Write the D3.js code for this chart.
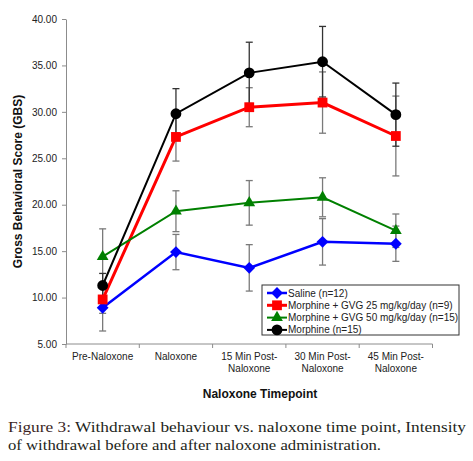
<!DOCTYPE html>
<html>
<head>
<meta charset="utf-8">
<script src="https://cdn.jsdelivr.net/npm/d3@7"></script>
<style>
  body { margin: 0; background: #fff; }
  text { font-family: "Liberation Sans", Arial, sans-serif; }
  text.caption { font-family: "Liberation Serif", "DejaVu Serif", serif; }
</style>
</head>
<body>
<div id="chart"></div>
<script>
// Timepoints on the x axis (second line after the '|')
const categories = [
  'Pre-Naloxone', 'Naloxone', '15 Min Post-|Naloxone',
  '30 Min Post-|Naloxone', '45 Min Post-|Naloxone'
]
const yTicks = [5, 10, 15, 20, 25, 30, 35, 40]

// Gross behavioral score means and error (+/-) per group
const salineMean = [8.9, 14.9, 13.2, 16.0, 15.8]
const salineErr = [2.5, 1.9, 2.5, 2.5, 1.9]
const gvg25Mean = [9.8, 27.3, 30.5, 31.0, 27.4]
const gvg25Err = [1.5, 2.6, 2.1, 3.3, 4.3]
const gvg50Mean = [14.4, 19.3, 20.2, 20.8, 17.2]
const gvg50Err = [3.0, 2.2, 2.4, 2.1, 1.8]
const morphineMean = [11.3, 29.8, 34.2, 35.4, 29.7]
const morphineErr = [1.3, 2.7, 3.3, 3.8, 3.4]

const seriesNames = [
  'Saline (n=12)',
  'Morphine + GVG 25 mg/kg/day (n=9)',
  'Morphine + GVG 50 mg/kg/day (n=15)',
  'Morphine (n=15)'
]

const width = 473
const height = 461
const plot = { left: 66, right: 432.5, top: 19, bottom: 344 }

const series = [
  { name: seriesNames[0], mean: salineMean, err: salineErr, color: '#0000ff', lw: 2.5, sym: 'diamond' },
  { name: seriesNames[1], mean: gvg25Mean, err: gvg25Err, color: '#ff0000', lw: 3, sym: 'square' },
  { name: seriesNames[2], mean: gvg50Mean, err: gvg50Err, color: '#008000', lw: 2, sym: 'triangle' },
  { name: seriesNames[3], mean: morphineMean, err: morphineErr, color: '#000000', lw: 2, sym: 'circle' }
]

const symbols = {
  diamond: d3.symbol().type(d3.symbolSquare).size(70)(),
  square: d3.symbol().type(d3.symbolSquare).size(96)(),
  triangle: d3.symbol().type(d3.symbolTriangle).size(60)(),
  circle: d3.symbol().type(d3.symbolCircle).size(92)()
}
const symRotate = s => s === 'diamond' ? ' rotate(45)' : ''

const svg = d3.select('#chart')
  .append('svg')
  .attr('width', width)
  .attr('height', height)

svg.append('rect').attr('width', width).attr('height', height).attr('fill', '#fff')

const x = d3.scaleBand()
  .domain(categories)
  .range([plot.left, plot.right])
const y = d3.scaleLinear()
  .domain([5, 40])
  .range([plot.bottom, plot.top])
const cx = c => x(c) + x.bandwidth() / 2

// Y axis
const yAxis = svg.append('g')
  .attr('transform', `translate(${plot.left},0)`)
  .call(d3.axisLeft(y).tickValues(yTicks).tickFormat(d3.format('.2f')).tickSize(4).tickSizeOuter(0).tickPadding(5))
yAxis.select('.domain').attr('stroke', '#8c8c8c')
yAxis.selectAll('.tick line').attr('stroke', '#8c8c8c')
yAxis.selectAll('.tick text').attr('fill', '#222').style('font-size', '10px')

// X axis: ticks sit between the categories
const xAxis = svg.append('g')
xAxis.append('line')
  .attr('x1', plot.left).attr('x2', plot.right)
  .attr('y1', y(5)).attr('y2', y(5))
  .attr('stroke', '#8c8c8c')
xAxis.selectAll('line.tk')
  .data(categories.map(c => x(c)).concat([plot.right]))
  .enter()
  .append('line')
  .attr('class', 'tk')
  .attr('x1', d => d).attr('x2', d => d)
  .attr('y1', y(5)).attr('y2', y(5) + 4)
  .attr('stroke', '#8c8c8c')
const xLabels = xAxis.selectAll('text')
  .data(categories)
  .enter()
  .append('text')
  .attr('text-anchor', 'middle')
  .attr('fill', '#222')
  .style('font-size', '10px')
xLabels.each(function (c) {
  c.split('|').forEach((part, i) => {
    d3.select(this).append('tspan')
      .attr('x', cx(c))
      .attr('y', y(5) + 16 + i * 12)
      .text(part)
  })
})

// Axis titles
svg.append('text')
  .attr('x', 260).attr('y', 398)
  .attr('text-anchor', 'middle')
  .style('font-size', '12px').style('font-weight', 'bold')
  .attr('fill', '#111')
  .text('Naloxone Timepoint')
svg.append('text')
  .attr('transform', `translate(22, ${(plot.top + plot.bottom) / 2}) rotate(-90)`)
  .attr('text-anchor', 'middle')
  .style('font-size', '12px').style('font-weight', 'bold')
  .attr('fill', '#111')
  .text('Gross Behavioral Score (GBS)')

// Error bars
series.forEach(s => {
  const g = svg.append('g').attr('stroke', s.sym === 'circle' ? '#333' : '#7a7a7a').attr('stroke-width', 1.3)
  s.mean.forEach((m, i) => {
    const px = cx(categories[i])
    const lo = y(m - s.err[i])
    const hi = y(m + s.err[i])
    g.append('line').attr('x1', px).attr('x2', px).attr('y1', lo).attr('y2', hi)
    g.append('line').attr('x1', px - 3.5).attr('x2', px + 3.5).attr('y1', lo).attr('y2', lo)
    g.append('line').attr('x1', px - 3.5).attr('x2', px + 3.5).attr('y1', hi).attr('y2', hi)
  })
})

// Lines and markers
const line = d3.line()
  .x((d, i) => cx(categories[i]))
  .y(d => y(d))
series.forEach(s => {
  svg.append('path')
    .datum(s.mean)
    .attr('d', line)
    .attr('fill', 'none')
    .attr('stroke', s.color)
    .attr('stroke-width', s.lw)
  svg.append('g')
    .selectAll('path')
    .data(s.mean)
    .enter()
    .append('path')
    .attr('d', symbols[s.sym])
    .attr('transform', (d, i) => `translate(${cx(categories[i])},${y(d)})${symRotate(s.sym)}`)
    .attr('fill', s.color)
})

// Legend
const legend = svg.append('g').attr('transform', 'translate(262,285)')
legend.append('rect')
  .attr('width', 197).attr('height', 50)
  .attr('fill', '#fff')
  .attr('stroke', '#333')
  .attr('stroke-width', 1)
const item = legend.selectAll('g.item')
  .data(series)
  .enter()
  .append('g')
  .attr('class', 'item')
  .attr('transform', (d, i) => `translate(0, ${8 + i * 12.3})`)
item.append('line')
  .attr('x1', 5).attr('x2', 25)
  .attr('stroke', d => d.color)
  .attr('stroke-width', d => d.lw)
item.append('path')
  .attr('d', d => symbols[d.sym])
  .attr('transform', d => `translate(15,0)${symRotate(d.sym)}`)
  .attr('fill', d => d.color)
item.append('text')
  .attr('x', 26).attr('dy', '0.35em')
  .attr('fill', '#222')
  .style('font-size', '10px')
  .text(d => d.name)

// Caption
const cap = svg.append('g')
  .style('font-size', '15.5px')
  .attr('fill', '#231f20')
const cap1 = cap.append('text').attr('class', 'caption').attr('x', 8).attr('y', 432)
  .attr('textLength', 458).attr('lengthAdjust', 'spacingAndGlyphs')
cap1.append('tspan').attr('fill', '#3b1f1f').text('Figure 3: ')
cap1.append('tspan').text('Withdrawal behaviour vs. naloxone time point, Intensity')
cap.append('text').attr('class', 'caption').attr('x', 8).attr('y', 450)
  .attr('textLength', 373).attr('lengthAdjust', 'spacingAndGlyphs')
  .text('of withdrawal before and after naloxone administration.')
</script>
</body>
</html>
